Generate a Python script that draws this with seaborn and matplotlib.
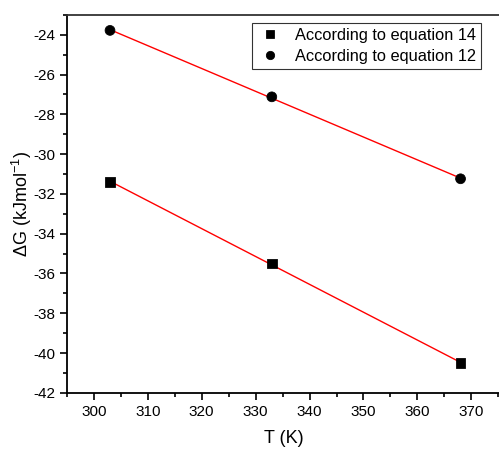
import numpy as np
import pandas as pd
import matplotlib
matplotlib.use("Agg")
import matplotlib.pyplot as plt
import seaborn as sns
from matplotlib.ticker import MultipleLocator

T = [303, 333, 368]
dg_eq14 = [-31.4, -35.5, -40.5]
dg_eq12 = [-23.78, -27.12, -31.24]
labels = ["According to equation 14", "According to equation 12"]

sns.set_style("ticks")
plt.rcParams['font.family'] = ['Liberation Sans', 'DejaVu Sans']
plt.rcParams['mathtext.fontset'] = 'custom'
plt.rcParams['mathtext.rm'] = 'Liberation Sans'
plt.rcParams['mathtext.it'] = 'Liberation Sans'
plt.rcParams['axes.unicode_minus'] = False
plt.rcParams['text.color'] = 'black'
plt.rcParams['axes.labelcolor'] = 'black'

df = pd.DataFrame({
    "T": T * 2,
    "dG": dg_eq14 + dg_eq12,
    "series": [labels[0]] * 3 + [labels[1]] * 3,
})

fig = plt.figure(figsize=(4.99, 4.51), dpi=100)
ax = fig.add_axes([0.134, 0.129, 0.870, 0.838])

# linear fits
for ys in (dg_eq14, dg_eq12):
    sns.regplot(x=T, y=ys, ax=ax, ci=None, scatter=False,
                line_kws=dict(color='red', lw=1.0), truncate=True)

sns.scatterplot(data=df, x="T", y="dG", style="series", hue="series",
                palette=['black', 'black'], markers=['s', 'o'],
                s=50, edgecolor='black', ax=ax, zorder=3)

ax.set_xlim(295, 375.5)
ax.set_ylim(-42, -23)
ax.set_xticks([300, 310, 320, 330, 340, 350, 360, 370])
ax.set_yticks(np.arange(-42, -23, 2))
ax.xaxis.set_minor_locator(MultipleLocator(5))
ax.yaxis.set_minor_locator(MultipleLocator(1))
ax.tick_params(axis='both', which='major', direction='out', length=5, width=1.2,
               labelsize=11, colors='black')
ax.tick_params(axis='both', which='minor', direction='out', length=3, width=1.2,
               colors='black')
ax.tick_params(top=False, right=False, which='both')

for side in ['left', 'bottom', 'top']:
    ax.spines[side].set_linewidth(1.3)
    ax.spines[side].set_color('black')
ax.spines['top'].set_color('#333333')
ax.spines['right'].set_visible(False)

ax.set_xlabel("T (K)", fontsize=13, labelpad=8)
ax.set_ylabel(r"ΔG (kJmol$^{-1}$)", fontsize=13, labelpad=-1)

leg = ax.legend(loc='upper right', bbox_to_anchor=(0.953, 0.979), fontsize=11.8,
                frameon=True, fancybox=False, borderpad=0.3, handletextpad=0.7,
                labelspacing=0.38, borderaxespad=0.0, handlelength=1.6)
leg.get_frame().set_edgecolor('black')
leg.get_frame().set_linewidth(0.8)
for h in leg.legend_handles:
    if hasattr(h, 'set_markersize'):
        h.set_markersize(6)

fig.savefig("out.png", dpi=100)
